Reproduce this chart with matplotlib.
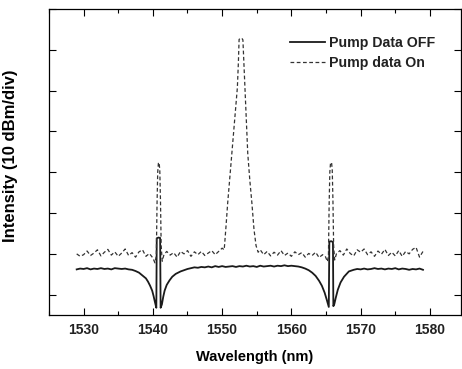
import matplotlib
matplotlib.use("Agg")
import matplotlib.pyplot as plt
from matplotlib.ticker import MultipleLocator

plt.rcParams['font.family'] = ['Liberation Sans', 'DejaVu Sans']
plt.rcParams['font.weight'] = 'bold'
plt.rcParams['text.color'] = '#222222'

# pump off (solid), wavelength in nm, intensity in dBm
wl_off = [1529.0, 1529.5, 1530.0, 1530.5, 1531.0, 1531.5, 1532.0, 1532.5, 1533.0, 1533.5,
          1534.0, 1534.5, 1535.0, 1535.5, 1536.0, 1536.5, 1537.0, 1537.5, 1538.0, 1538.5,
          1539.0, 1539.3, 1539.6, 1539.9, 1540.1, 1540.3, 1540.5, 1540.56, 1540.8, 1541.05,
          1541.12, 1541.3, 1541.5, 1541.7, 1542.0, 1542.4, 1542.8, 1543.3, 1544.0, 1544.5,
          1545.0, 1545.5, 1546.0, 1546.5, 1547.0, 1547.5, 1548.0, 1548.5, 1549.0, 1549.5,
          1550.0, 1550.5, 1551.0, 1551.5, 1552.0, 1552.5, 1553.0, 1553.5, 1554.0, 1554.5,
          1555.0, 1555.5, 1556.0, 1556.5, 1557.0, 1557.5, 1558.0, 1558.5, 1559.0, 1559.5,
          1560.0, 1560.5, 1561.0, 1561.5, 1562.0, 1562.5, 1563.0, 1563.5, 1564.0, 1564.4,
          1564.8, 1565.1, 1565.4, 1565.48, 1565.75, 1566.0, 1566.06, 1566.2, 1566.4, 1566.7,
          1567.1, 1567.6, 1568.3, 1569.0, 1569.5, 1570.0, 1570.5, 1571.0, 1571.5, 1572.0,
          1572.5, 1573.0, 1573.5, 1574.0, 1574.5, 1575.0, 1575.5, 1576.0, 1576.5, 1577.0,
          1577.5, 1578.0, 1578.5, 1579.0]
int_off = [-63.8, -63.6, -63.7, -63.5, -63.8, -63.6, -63.7, -63.5, -63.7, -63.6,
           -63.8, -63.5, -63.6, -63.7, -63.6, -63.8, -63.9, -64.2, -64.6, -65.3,
           -66.0, -66.8, -67.8, -69.0, -70.3, -71.8, -73.2, -56.2, -56.0, -56.1,
           -73.2, -72.4, -70.5, -69.0, -67.6, -66.5, -65.6, -64.9, -64.3, -64.0,
           -63.7, -63.5, -63.3, -63.4, -63.2, -63.3, -63.1, -63.3, -63.0, -63.2,
           -63.0, -63.2, -63.1, -63.0, -63.2, -63.0, -63.1, -62.9, -63.1, -63.0,
           -63.2, -62.9, -63.1, -63.0, -62.9, -63.1, -62.9, -63.0, -62.8, -63.0,
           -62.9, -63.0, -63.1, -63.3, -63.6, -64.0, -64.6, -65.4, -66.6, -67.8,
           -69.5, -71.2, -73.0, -57.0, -56.9, -57.1, -72.8, -72.3, -70.8, -68.8,
           -67.0, -65.6, -64.3, -63.9, -63.7, -63.8, -63.6, -63.8, -63.7, -63.5,
           -63.7, -63.6, -63.8, -63.6, -63.7, -63.5, -63.8, -63.6, -63.7, -63.9,
           -63.7, -63.8, -63.6, -63.9]

# pump on (dashed)
wl_on = [1529.0, 1529.5, 1530.0, 1530.5, 1531.0, 1531.5, 1532.0, 1532.5, 1533.0, 1533.5,
         1534.0, 1534.5, 1535.0, 1535.5, 1536.0, 1536.5, 1537.0, 1537.5, 1538.0, 1538.5,
         1539.0, 1539.5, 1540.0, 1540.3, 1540.5, 1540.6, 1540.7, 1540.8, 1540.9, 1541.0,
         1541.1, 1541.2, 1541.35, 1541.6, 1542.0, 1542.5, 1543.0, 1543.5, 1544.0, 1544.5,
         1545.0, 1545.5, 1546.0, 1546.5, 1547.0, 1547.5, 1548.0, 1548.5, 1549.0, 1549.5,
         1550.0, 1550.3, 1550.55, 1550.8, 1551.1, 1551.4, 1551.7, 1552.0, 1552.2, 1552.35,
         1552.45, 1552.6, 1552.85, 1553.0, 1553.15, 1553.3, 1553.5, 1553.7, 1554.0, 1554.3,
         1554.6, 1554.9, 1555.2, 1555.5, 1556.0, 1556.5, 1557.0, 1557.5, 1558.0, 1558.5,
         1559.0, 1559.5, 1560.0, 1560.5, 1561.0, 1561.5, 1562.0, 1562.5, 1563.0, 1563.5,
         1564.0, 1564.5, 1564.9, 1565.2, 1565.35, 1565.45, 1565.55, 1565.65, 1565.8, 1565.9,
         1566.0, 1566.1, 1566.25, 1566.5, 1567.0, 1567.5, 1568.0, 1568.5, 1569.0, 1569.5,
         1570.0, 1570.5, 1571.0, 1571.5, 1572.0, 1572.5, 1573.0, 1573.5, 1574.0, 1574.5,
         1575.0, 1575.5, 1576.0, 1576.5, 1577.0, 1577.5, 1578.0, 1578.5, 1579.0]
int_on = [-60.0, -60.6, -60.2, -59.3, -60.4, -59.8, -59.0, -60.5, -59.6, -58.9,
          -60.3, -59.5, -60.6, -59.8, -58.8, -60.4, -59.7, -60.8, -59.5, -59.0,
          -60.6, -59.9, -61.0, -62.2, -60.5, -48.0, -40.0, -37.8, -37.6, -39.5,
          -47.0, -58.0, -61.8, -60.2, -59.4, -60.3, -59.7, -60.8, -59.4, -60.0,
          -59.2, -60.6, -59.5, -60.2, -59.4, -60.4, -59.8, -59.2, -60.2, -59.4,
          -58.6, -59.0, -53.5, -47.6, -41.5, -35.4, -29.5, -23.5, -19.3, -13.0,
          -7.5, -7.2, -7.2, -7.6, -13.5, -19.3, -27.5, -35.4, -42.0, -47.6,
          -54.0, -58.0, -59.6, -59.0, -60.2, -59.4, -60.5, -59.6, -60.3, -59.2,
          -60.4, -59.8, -60.6, -59.5, -60.2, -59.7, -60.8, -59.9, -60.4, -59.6,
          -60.9, -60.2, -60.6, -61.9, -60.5, -48.0, -40.0, -37.8, -37.6, -39.5,
          -47.0, -58.0, -61.5, -60.0, -59.2, -60.3, -58.8, -59.9, -60.5, -59.0,
          -59.6, -58.8, -60.2, -59.5, -60.6, -59.3, -60.1, -58.9, -60.4, -59.6,
          -60.5, -59.2, -60.6, -59.4, -60.0, -58.9, -58.4, -60.8, -59.4]

fig = plt.figure(figsize=(4.62, 3.69), dpi=100)
ax = fig.add_axes([0.106, 0.146, 0.892, 0.830])

ax.plot(wl_off, int_off, color='#1a1a1a', lw=1.3, label='Pump Data OFF')
ax.plot(wl_on, int_on, color='#333333', lw=0.9, ls=(0, (3, 2)), label='Pump data On')

ax.set_xlim(1525, 1584.5)
ax.set_ylim(-75, 0)
ax.xaxis.set_major_locator(MultipleLocator(10))
ax.xaxis.set_minor_locator(MultipleLocator(5))
ax.yaxis.set_major_locator(MultipleLocator(10))
ax.set_yticklabels([])
ax.tick_params(which='both', direction='in', top=True, right=True, width=0.8,
               labelcolor='#222222')
ax.tick_params(which='major', length=5, labelsize=10, pad=6)
ax.tick_params(which='minor', length=3)
for s in ax.spines.values():
    s.set_linewidth(0.9)

ax.set_xlabel('Wavelength (nm)', fontsize=10.5, fontweight='bold', labelpad=9)
ax.set_ylabel('Intensity (10 dBm/div)', fontsize=12, fontweight='bold')
ax.yaxis.set_label_coords(-0.075, 0.52)

ax.legend(loc='upper left', frameon=False, fontsize=10.2, handlelength=2.47,
          handletextpad=0.28, labelspacing=0.41, borderpad=0, borderaxespad=0,
          bbox_to_anchor=(0.585, 0.910))

fig.savefig('out.png', dpi=100)
